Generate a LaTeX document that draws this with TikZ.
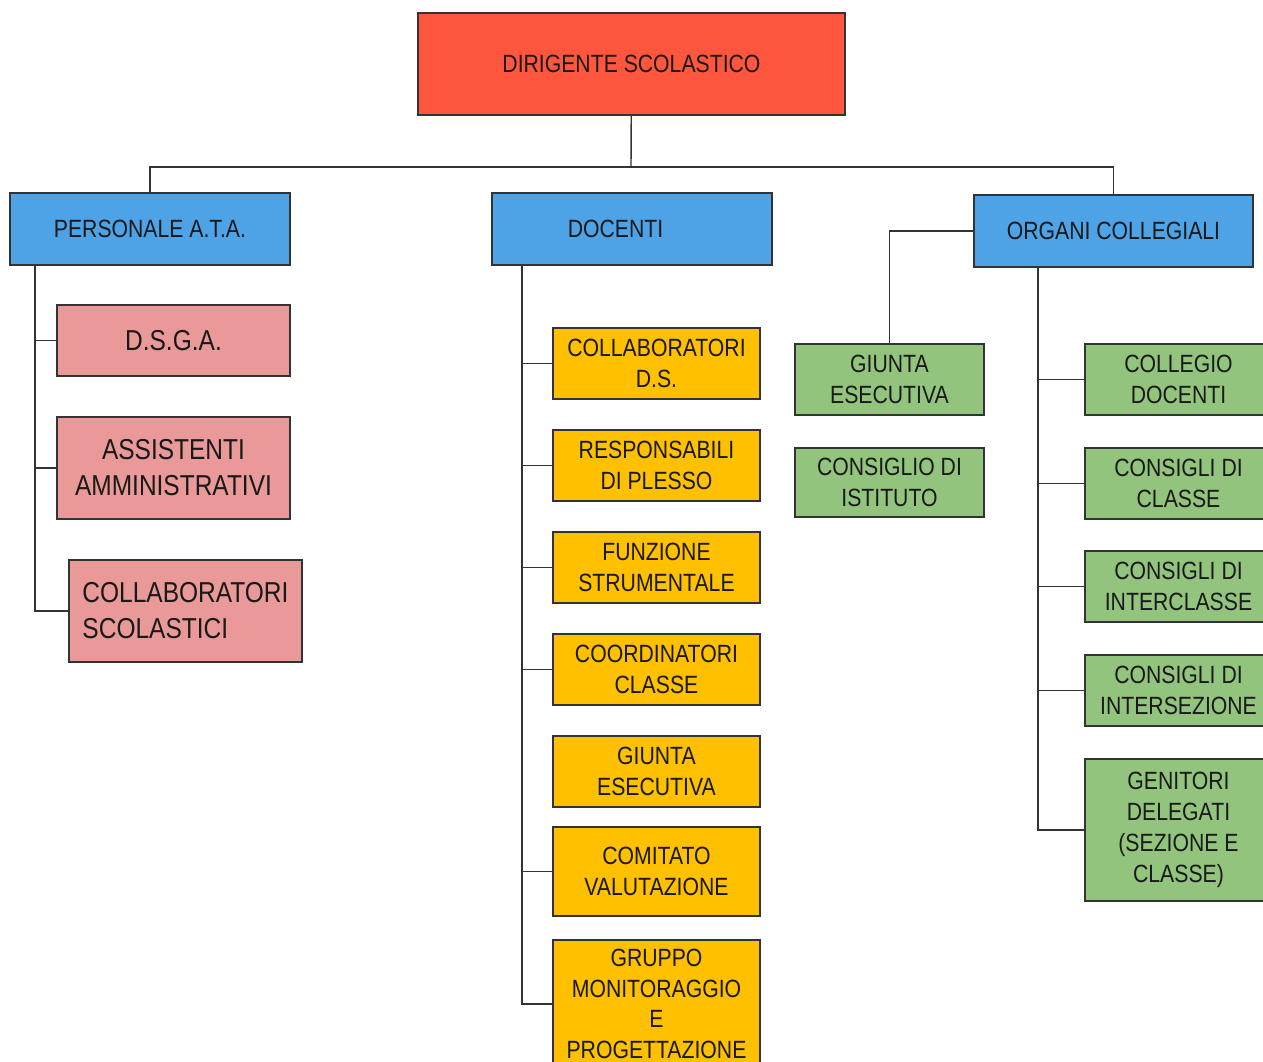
\documentclass[tikz,border=0pt]{standalone}
\usepackage{fontspec}
\setmainfont{Liberation Sans}[FakeStretch=0.85]
\usetikzlibrary{positioning}
\definecolor{capoRed}{HTML}{FF563D}
\definecolor{areaBlue}{HTML}{4EA2E6}
\definecolor{ataPink}{HTML}{EA9999}
\definecolor{docYellow}{HTML}{FFC000}
\definecolor{orgGreen}{HTML}{93C47D}
\tikzset{%
    base/.style = {
        rectangle, draw=black!80, line width=0.8pt, align=center,
        inner sep=2pt, outer sep=0pt, text=black!90,
        font=\fontsize{14.2}{17.6}\selectfont
    },
    capo/.style = {base, fill=capoRed, minimum width=8.54cm, minimum height=2.04cm},
    area/.style = {base, fill=areaBlue, minimum width=5.6cm, minimum height=1.44cm},
    ata/.style = {base, fill=ataPink, minimum width=4.66cm, minimum height=1.42cm,
        font=\fontsize{16.4}{20.4}\selectfont},
    docente/.style = {base, fill=docYellow, minimum width=4.14cm, minimum height=1.42cm},
    organo/.style = {base, fill=orgGreen, minimum width=3.78cm, minimum height=1.42cm},
    link/.style = {draw=black!80, line width=0.8pt},
}

\begin{document}
\begin{tikzpicture}[x=0.02cm, y=-0.02cm]
        \useasboundingbox (0,0) rectangle (1263,1061);

        % Nodes position
        \node (dirigente)  [capo, anchor=north west] at (418,13)
                             {DIRIGENTE SCOLASTICO};
        \node (personale)  [area, anchor=north west] at (10,193)
                             {PERSONALE A.T.A.};
        \node (docenti)    [area, anchor=north west] at (492,193)
                             {DOCENTI\hspace*{0.66cm}};
        \node (organi)     [area, minimum width=5.58cm, anchor=north west] at (974,195)
                             {ORGANI COLLEGIALI};

        % personale A.T.A.
        \node (dsga)       [ata, anchor=north west] at (57,305)
                             {D.S.G.A.};
        \node (assistenti) [ata, minimum height=2.04cm, below=0.82cm of dsga]
                             {ASSISTENTI\\AMMINISTRATIVI};
        \node (collabScol) [ata, minimum height=2.04cm, align=left,
                            below=0.82cm of assistenti, xshift=0.24cm]
                             {COLLABORATORI\\SCOLASTICI};

        % docenti
        \node (collabDS)     [docente, anchor=north west] at (553,328)
                               {COLLABORATORI\\D.S.};
        \node (responsabili) [docente, below=0.62cm of collabDS]
                               {RESPONSABILI\\DI PLESSO};
        \node (funzione)     [docente, below=0.62cm of responsabili]
                               {FUNZIONE\\STRUMENTALE};
        \node (coordinatori) [docente, below=0.62cm of funzione]
                               {COORDINATORI\\CLASSE};
        \node (giuntaDoc)    [docente, below=0.62cm of coordinatori]
                               {GIUNTA\\ESECUTIVA};
        \node (comitato)     [docente, minimum height=1.78cm, below=0.4cm of giuntaDoc]
                               {COMITATO\\VALUTAZIONE};
        \node (gruppo)       [docente, minimum height=2.56cm, below=0.48cm of comitato]
                               {GRUPPO\\MONITORAGGIO\\E\\PROGETTAZIONE};

        % organi collegiali
        \node (giuntaOrg)    [organo, anchor=north west] at (795,344)
                               {GIUNTA\\ESECUTIVA};
        \node (consiglioIst) [organo, minimum height=1.38cm, below=0.66cm of giuntaOrg]
                               {CONSIGLIO DI\\ISTITUTO};
        \node (collegio)     [organo, minimum width=3.74cm, anchor=north west] at (1085,344)
                               {COLLEGIO\\DOCENTI};
        \node (consClasse)   [organo, minimum width=3.74cm, below=0.66cm of collegio]
                               {CONSIGLI DI\\CLASSE};
        \node (consInter)    [organo, minimum width=3.74cm, below=0.64cm of consClasse]
                               {CONSIGLI DI\\INTERCLASSE};
        \node (consInters)   [organo, minimum width=3.74cm, below=0.66cm of consInter]
                               {CONSIGLI DI\\INTERSEZIONE};
        \node (genitori)     [organo, minimum width=3.74cm, minimum height=2.84cm,
                              below=0.66cm of consInters]
                               {GENITORI\\DELEGATI\\(SEZIONE E\\CLASSE)};

        % Connectors
        \coordinate (topBus)   at (631,167);
        \coordinate (ataSpine) at ([xshift=0.5cm]personale.south west);
        \coordinate (docSpine) at ([xshift=0.6cm]docenti.south west);
        \coordinate (orgSpine) at ([xshift=1.28cm]organi.south west);

        \draw[link] (dirigente) -- (topBus);
        \draw[link]    (topBus) -| (personale);
        \draw[link]    (topBus) -| (organi);

        \draw[link] (ataSpine) |- (collabScol.west);
        \draw[link] (dsga.west) -- (dsga.west -| ataSpine);
        \draw[link] (assistenti.west) -- (assistenti.west -| ataSpine);

        \draw[link] (docSpine) |- (gruppo.west);
        \foreach \n in {collabDS, responsabili, funzione, coordinatori, comitato}
            \draw[link] (\n.west) -- (\n.west -| docSpine);

        \draw[link] (organi.west) -| (giuntaOrg);
        \draw[link] (orgSpine) |- (genitori.west);
        \foreach \n in {collegio, consClasse, consInter, consInters}
            \draw[link] (\n.west) -- (\n.west -| orgSpine);
    \end{tikzpicture}
\end{document}
